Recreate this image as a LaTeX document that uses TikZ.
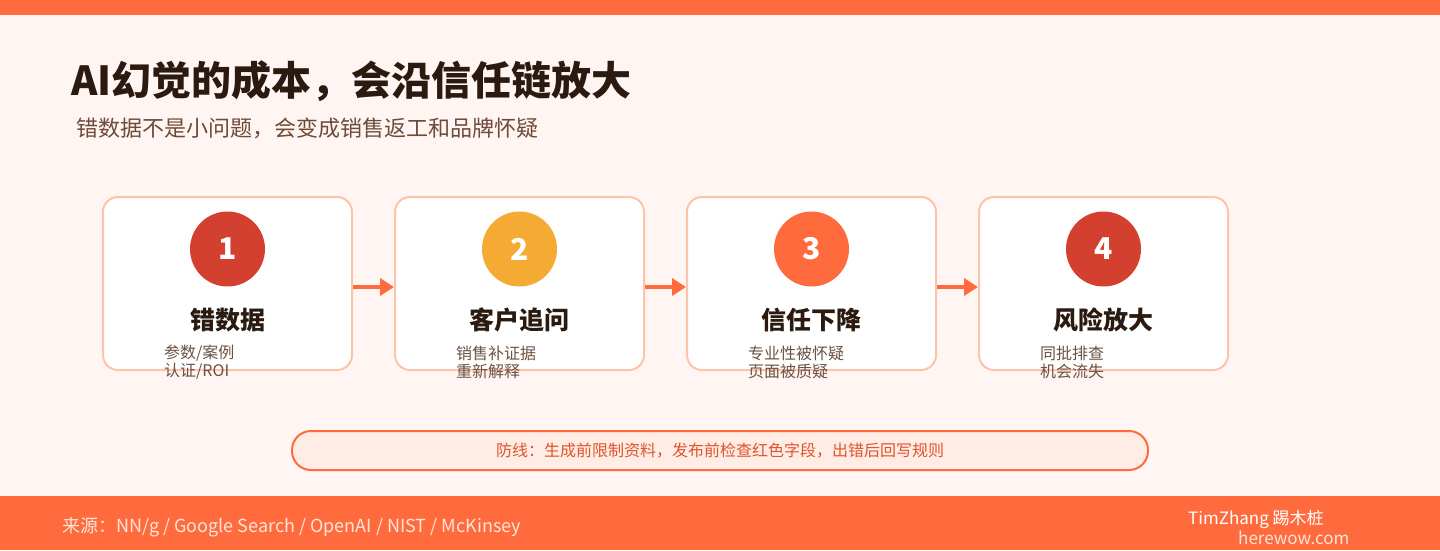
\documentclass[tikz,border=0pt]{standalone}
\usepackage{fontspec}
\setmainfont{Noto Sans CJK SC}
\usetikzlibrary{arrows.meta}
\definecolor{bgc}{HTML}{FFF5F2}
\definecolor{accent}{HTML}{FF6B3D}
\definecolor{darkt}{HTML}{2A1A10}
\definecolor{subt}{HTML}{6E4A38}
\definecolor{cardline}{HTML}{FFC3AC}
\definecolor{redc}{HTML}{D3402F}
\definecolor{yelc}{HTML}{F5AA33}
\definecolor{smallt}{HTML}{6B5242}
\definecolor{banfill}{HTML}{FFECE4}
\definecolor{bant}{HTML}{E0532B}
\definecolor{foott}{HTML}{FFE4D8}
\tikzset{
  cardbox/.style={draw=cardline, line width=2pt, fill=white, rounded corners=15pt,
    minimum width=249pt, minimum height=173pt, inner sep=0pt},
  numcirc/.style={circle, minimum size=75pt, inner sep=0pt, text=white,
    font=\fontsize{30}{32}\selectfont\bfseries},
  cardtitle/.style={text=darkt, inner sep=0pt, font=\fontsize{25}{28}\selectfont\bfseries},
  cardsub/.style={text=smallt, inner sep=0pt, anchor=west, align=left,
    font=\fontsize{16}{18}\selectfont},
  flow/.style={draw=accent, line width=4pt, -{Triangle[length=14pt,width=17pt]}},
}
\begin{document}
\begin{tikzpicture}[x=1pt,y=-1pt]
\fill[bgc] (0,0) rectangle (1440,550);
\useasboundingbox (0,0) rectangle (1440,550);
\fill[accent] (0,0) rectangle (1440,15);
\fill[accent] (0,496) rectangle (1440,550);

\node[anchor=west, inner sep=0pt, text=darkt, font=\fontsize{40}{42}\selectfont\bfseries]
  (title) at (71,81) {AI幻觉的成本，会沿信任链放大};
\node[anchor=west, inner sep=0pt, text=subt, font=\fontsize{22}{24}\selectfont]
  (subtitle) at (76,128) {错数据不是小问题，会变成销售返工和品牌怀疑};

\node[cardbox] (card1) at (227.5,283.5) {};
\node[cardbox] (card2) at (519.5,283.5) {};
\node[cardbox] (card3) at (811.5,283.5) {};
\node[cardbox] (card4) at (1103.5,283.5) {};

\node[numcirc, fill=redc] (n1) at (227.5,249) {1};
\node[numcirc, fill=yelc] (n2) at (519.5,249) {2};
\node[numcirc, fill=accent] (n3) at (811.5,249) {3};
\node[numcirc, fill=redc] (n4) at (1103.5,249) {4};

\node[cardtitle] (t1) at (227.5,320) {错数据};
\node[cardtitle] (t2) at (519.5,320) {客户追问};
\node[cardtitle] (t3) at (811.5,320) {信任下降};
\node[cardtitle] (t4) at (1103.5,320) {风险放大};

\node[cardsub] (s1) at (164,362) {参数/案例\\认证/ROI};
\node[cardsub] (s2) at (456,362) {销售补证据\\重新解释};
\node[cardsub] (s3) at (748,362) {专业性被怀疑\\页面被质疑};
\node[cardsub] (s4) at (1040,362) {同批排查\\机会流失};

\draw[flow] (card1.east |- 0,287) -- (card2.west |- 0,287);
\draw[flow] (card2.east |- 0,287) -- (card3.west |- 0,287);
\draw[flow] (card3.east |- 0,287) -- (card4.west |- 0,287);

\node[draw=accent, line width=2pt, fill=banfill, rounded corners=19pt,
  minimum width=856pt, minimum height=39pt, inner sep=0pt, text=bant,
  font=\fontsize{16}{18}\selectfont] (banner) at (720,450.5)
  {防线：生成前限制资料，发布前检查红色字段，出错后回写规则};

\node[anchor=west, inner sep=0pt, text=foott, font=\fontsize{18}{20}\selectfont]
  (source) at (62,527) {来源：NN/g / Google Search / OpenAI / NIST / McKinsey};
\node[anchor=west, inner sep=0pt, text=white, font=\fontsize{17}{19}\selectfont]
  (author) at (1188,519) {TimZhang 踢木桩};
\node[anchor=west, inner sep=0pt, text=foott, font=\fontsize{17}{19}\selectfont]
  (site) at (1238,538) {herewow.com};
\end{tikzpicture}
\end{document}
